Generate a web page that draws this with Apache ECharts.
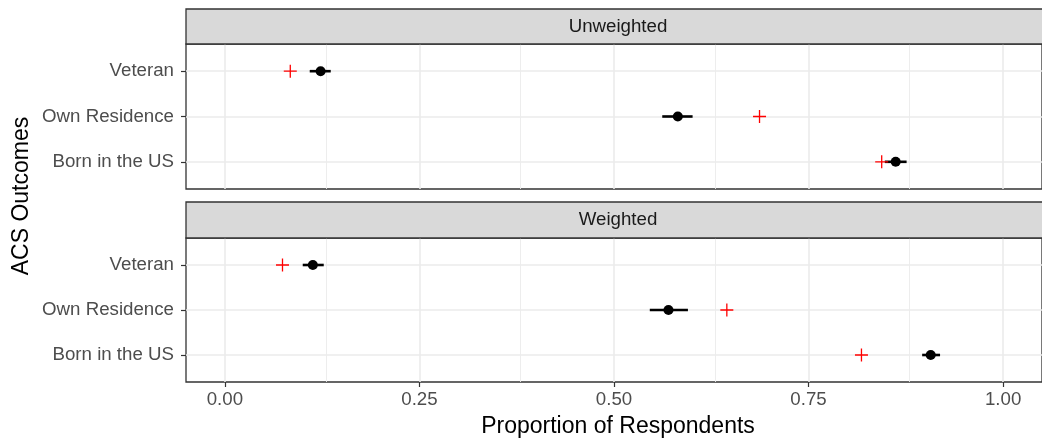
<!DOCTYPE html>
<html>
<head>
<meta charset="utf-8">
<script src="https://cdn.jsdelivr.net/npm/echarts@6/dist/echarts.min.js"></script>
<style>html,body{margin:0;padding:0;background:#fff}#c{width:1042px;height:441px}</style>
</head>
<body>
<div id="c"></div>
<script>
// ---- data ----
const categories = ['Born in the US', 'Own Residence', 'Veteran']; // y = 1,2,3 (bottom to top)
const panels = ['Unweighted', 'Weighted'];
const unweightedEst   = [0.862, 0.582, 0.123];
const unweightedLo    = [0.848, 0.562, 0.109];
const unweightedHi    = [0.876, 0.601, 0.136];
const unweightedBench = [0.844, 0.687, 0.084];
const weightedEst     = [0.907, 0.570, 0.113];
const weightedLo      = [0.896, 0.546, 0.100];
const weightedHi      = [0.919, 0.595, 0.127];
const weightedBench   = [0.818, 0.645, 0.074];
const xTicks = [0, 0.25, 0.5, 0.75, 1];
const xMinor = [0.125, 0.375, 0.625, 0.875];
const yTicks = [1, 2, 3];

const FONT = '"Liberation Sans", Arial, Helvetica, sans-serif';
const chart = echarts.init(document.getElementById('c'), null, {renderer: 'canvas'});

const gridDefs = [
  {top: 44, height: 145},
  {top: 238, height: 144}
];
const stripDefs = [
  {y: 9, h: 35},
  {y: 202, h: 36}
];
const LEFT = 186, RIGHT = -8;

const plusPath = 'path://M45,0H55V45H100V55H55V100H45V55H0V45H45Z';

const grids = gridDefs.map(g => ({
  left: LEFT, right: RIGHT, top: g.top, height: g.height,
  show: true, backgroundColor: '#fff', borderColor: '#333333', borderWidth: 1.3, z: 0
}));

const xAxes = [0, 1].map(i => ({
  type: 'value', gridIndex: i, min: -0.05, max: 1.05,
  splitLine: {show: false},
  axisLine: {show: false, onZero: false},
  axisTick: {show: i === 1, customValues: xTicks, length: 5, lineStyle: {color: '#333333', width: 1.2}},
  axisLabel: {
    show: i === 1, customValues: xTicks, margin: 8,
    formatter: v => v.toFixed(2),
    color: '#4d4d4d', fontSize: 18.7, fontFamily: FONT
  }
}));

const yAxes = [0, 1].map(i => ({
  type: 'value', gridIndex: i, min: 0.4, max: 3.6,
  splitLine: {show: false},
  axisLine: {show: false, onZero: false},
  axisTick: {show: true, customValues: yTicks, length: 5, lineStyle: {color: '#333333', width: 1.2}},
  axisLabel: {
    show: true, customValues: yTicks, margin: 12,
    formatter: v => categories[Math.round(v) - 1] || '',
    color: '#4d4d4d', fontSize: 18.7, fontFamily: FONT
  }
}));

const panelData = [
  {est: unweightedEst, lo: unweightedLo, hi: unweightedHi, bench: unweightedBench},
  {est: weightedEst, lo: weightedLo, hi: weightedHi, bench: weightedBench}
];

const series = [];
panelData.forEach((p, i) => {
  // panel grid lines
  series.push({
    type: 'scatter', xAxisIndex: i, yAxisIndex: i, data: [], silent: true, z: 1,
    markLine: {
      silent: true, z: 1, symbol: ['none', 'none'], label: {show: false}, animation: false,
      emphasis: {disabled: true},
      data: [
        ...xMinor.map(v => ({xAxis: v, lineStyle: {color: '#ebebeb', width: 0.9, type: 'solid', opacity: 1}})),
        ...xTicks.map(v => ({xAxis: v, lineStyle: {color: '#ebebeb', width: 1.6, type: 'solid', opacity: 1}})),
        ...yTicks.map(v => ({yAxis: v, lineStyle: {color: '#ebebeb', width: 1.6, type: 'solid', opacity: 1}}))
      ]
    }
  });
  // error bars
  series.push({
    type: 'custom', xAxisIndex: i, yAxisIndex: i, z: 3,
    data: p.lo.map((lo, k) => [lo, p.hi[k], yTicks[k]]),
    renderItem: (params, api) => {
      const a = api.coord([api.value(0), api.value(2)]);
      const b = api.coord([api.value(1), api.value(2)]);
      return {type: 'line', shape: {x1: a[0], y1: a[1], x2: b[0], y2: b[1]},
              style: {stroke: '#000', lineWidth: 2.6}};
    },
    encode: {x: [0, 1], y: 2}
  });
  // estimates
  series.push({
    type: 'scatter', xAxisIndex: i, yAxisIndex: i, z: 4,
    symbol: 'circle', symbolSize: 10,
    itemStyle: {color: '#000', opacity: 1},
    data: p.est.map((v, k) => [v, yTicks[k]])
  });
  // benchmarks
  series.push({
    type: 'scatter', xAxisIndex: i, yAxisIndex: i, z: 5,
    symbol: plusPath, symbolSize: 13,
    itemStyle: {color: '#ff0000', opacity: 1},
    data: p.bench.map((v, k) => [v, yTicks[k]])
  });
});

const graphics = [];
stripDefs.forEach((s, i) => {
  graphics.push({
    type: 'rect', z: 10,
    shape: {x: LEFT, y: s.y, width: 1042 - LEFT + 20, height: s.h},
    style: {fill: '#d9d9d9', stroke: '#333333', lineWidth: 1.3}
  });
  graphics.push({
    type: 'text', z: 11, x: 618, y: s.y + s.h / 2,
    style: {text: panels[i], font: '18.7px ' + FONT, fill: '#1a1a1a', textAlign: 'center', textVerticalAlign: 'middle'}
  });
});
graphics.push({
  type: 'text', z: 11, x: 618, y: 427,
  style: {text: 'Proportion of Respondents', font: '23px ' + FONT, fill: '#000', textAlign: 'center', textVerticalAlign: 'middle'}
});
graphics.push({
  type: 'text', z: 11, x: 22, y: 196, rotation: Math.PI / 2,
  style: {text: 'ACS Outcomes', font: '23px ' + FONT, fill: '#000', textAlign: 'center', textVerticalAlign: 'middle'}
});

chart.setOption({
  animation: false,
  backgroundColor: '#ffffff',
  grid: grids,
  xAxis: xAxes,
  yAxis: yAxes,
  series: series,
  graphic: graphics
});
</script>
</body>
</html>
